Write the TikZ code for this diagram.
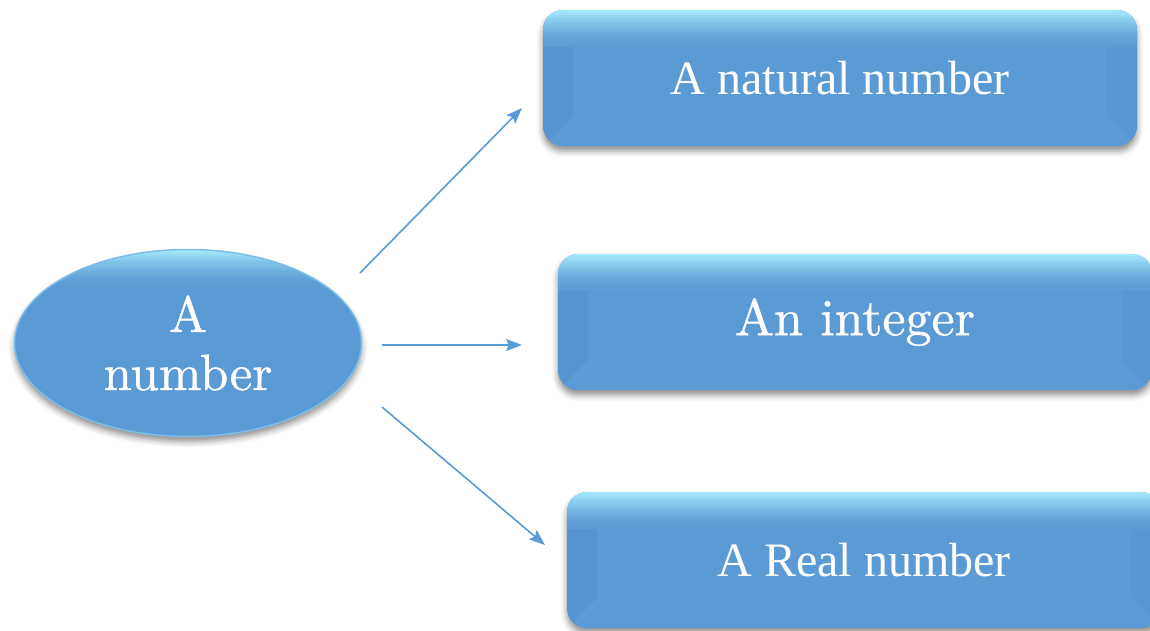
\documentclass[tikz,border=0pt]{standalone}
\usepackage{fontspec}
\newfontfamily\boxfont{Liberation Serif}
\newfontfamily\schfont[FakeBold=0.8]{lmroman10-regular.otf}
\usetikzlibrary{arrows.meta,shadows.blur,shapes.geometric}
\definecolor{base}{HTML}{5B9BD5}
\definecolor{hilite}{HTML}{A4E8FC}
\definecolor{darkedge}{HTML}{4A88C2}
\newcommand{\topglow}[1]{%
  \foreach \i in {0,...,15}{%
    \pgfmathsetmacro{\pc}{100*(1-\i/16)^1.6}%
    \fill[hilite!\pc!base] ([yshift=-\i*2.3pt]path picture bounding box.north west) rectangle ([yshift=-\i*2.3pt-2.8pt]path picture bounding box.north east);
  }}
\tikzset{
  shadowstyle/.style={blur shadow={shadow xshift=0pt, shadow yshift=-5pt, shadow blur radius=6pt, shadow opacity=45}},
  boxnode/.style={rectangle, rounded corners=20pt, minimum width=594pt, minimum height=136pt,
    fill=base, text=white, inner sep=0pt, shadowstyle,
    path picture={
      \begin{scope}[sharp corners]
      \fill[darkedge, opacity=0.32] (path picture bounding box.north west) -- ([xshift=30pt,yshift=-30pt]path picture bounding box.north west) -- ([xshift=30pt,yshift=30pt]path picture bounding box.south west) -- (path picture bounding box.south west) -- cycle;
      \fill[darkedge, opacity=0.22] (path picture bounding box.north east) -- ([xshift=-30pt,yshift=-30pt]path picture bounding box.north east) -- ([xshift=-30pt,yshift=30pt]path picture bounding box.south east) -- (path picture bounding box.south east) -- cycle;
      \topglow{}
      \end{scope}
    }},
  timesbox/.style={boxnode, font=\boxfont\fontsize{48}{56}\selectfont},
  schbox/.style={boxnode, font=\schfont\fontsize{52}{60}\selectfont},
  ellnode/.style={ellipse, minimum width=347pt, minimum height=187pt, fill=base, text=white,
    draw=hilite!45!base, line width=1.5pt,
    inner sep=0pt, align=center, font=\schfont\fontsize{51}{58}\selectfont, shadowstyle,
    path picture={\begin{scope}[sharp corners]\topglow{}\end{scope}}},
  conn/.style={draw=base, line width=1.6pt, -{Stealth[length=16pt,width=12pt,inset=3pt]}}
}
\begin{document}
\begin{tikzpicture}[x=1pt,y=-1pt]
\useasboundingbox (0,0) rectangle (1150,630);
\clip (0,0) rectangle (1150,630);
\node[ellnode] (num) at (188,343) {A\\number};
\node[timesbox] (nat) at (840,78) {A natural number};
\node[schbox] (int) at (855,322) {An integer};
\node[timesbox] (real) at (864,560) {A Real number};
\coordinate (s1) at (360,273);
\coordinate (e1) at (522,108);
\coordinate (s2) at (382,345);
\coordinate (e2) at (522,345);
\coordinate (s3) at (382,407);
\coordinate (e3) at (545,545);
\draw[conn] (s1) -- (e1);
\draw[conn] (s2) -- (e2);
\draw[conn] (s3) -- (e3);
\end{tikzpicture}
\end{document}
